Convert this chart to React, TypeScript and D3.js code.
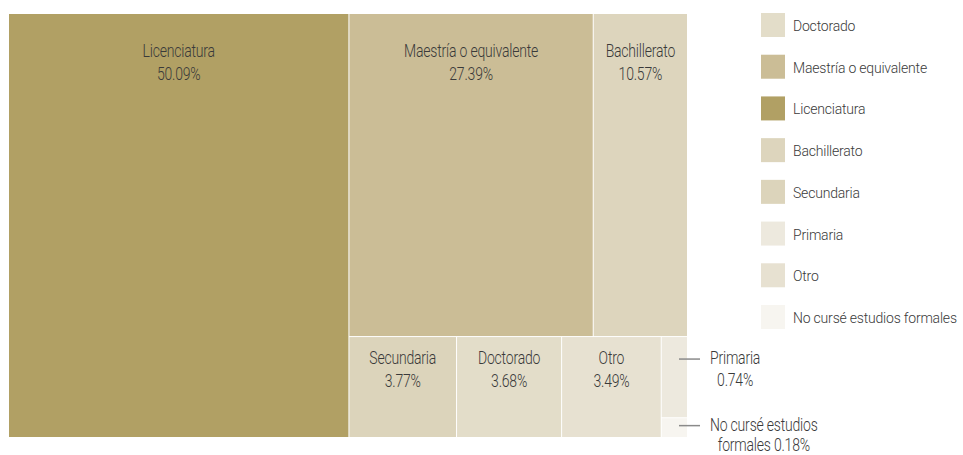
import React, { useEffect, useRef } from "react";
import * as d3 from "d3";

const categories = [
  "Licenciatura",
  "Maestría o equivalente",
  "Bachillerato",
  "Secundaria",
  "Doctorado",
  "Otro",
  "Primaria",
  "No cursé estudios formales",
];
const percentages = [50.09, 27.39, 10.57, 3.77, 3.68, 3.49, 0.74, 0.18];
const colors = ["#b1a064", "#cbbd96", "#ddd5bd", "#dcd4bb", "#e3ddc9", "#e7e1d1", "#ede9de", "#f7f5f0"];
const legendOrder = [
  "Doctorado",
  "Maestría o equivalente",
  "Licenciatura",
  "Bachillerato",
  "Secundaria",
  "Primaria",
  "Otro",
  "No cursé estudios formales",
];
const outsideCategories = ["Primaria", "No cursé estudios formales"];
const outsideNameLines: Record<string, string[]> = {
  Primaria: ["Primaria", ""],
  "No cursé estudios formales": ["No cursé estudios", "formales "],
};

const FONT = "Roboto, 'Open Sans', sans-serif";
const TEXT = "#3a3a3a";

export default function App() {
  const ref = useRef<SVGSVGElement | null>(null);

  useEffect(() => {
    const svg = d3.select(ref.current);
    svg.selectAll("*").remove();

    const x0 = 9, y0 = 14, W = 678, H = 423;
    const vscale = 1.27;

    const data = categories.map((c, i) => ({ name: c, value: percentages[i], color: colors[i] }));
    const root = d3
      .hierarchy<any>({ children: data })
      .sum((d: any) => d.value || 0)
      .sort((a, b) => (b.value || 0) - (a.value || 0));
    d3.treemap<any>().tile(d3.treemapSquarify).size([W, H]).paddingInner(1)(root);

    const g = svg.append("g").attr("transform", `translate(${x0},${y0})`);
    const leaves = root.leaves() as any[];
    const fmt = (v: number) => v.toFixed(2) + "%";
    const offset = d3.scaleLinear().domain([100, 300]).range([27, 43]).clamp(true);

    g.selectAll("rect.cell")
      .data(leaves)
      .join("rect")
      .attr("class", "cell")
      .attr("x", (d) => d.x0)
      .attr("y", (d) => d.y0)
      .attr("width", (d) => d.x1 - d.x0)
      .attr("height", (d) => d.y1 - d.y0)
      .attr("fill", (d) => d.data.color);

    const inside = leaves.filter((d) => !outsideCategories.includes(d.data.name));
    inside.forEach((d) => {
      const cx = (d.x0 + d.x1) / 2;
      const b1 = d.y0 + offset(d.y1 - d.y0);
      [d.data.name, fmt(d.data.value)].forEach((t, k) => {
        g.append("text")
          .attr("transform", `translate(${cx},${b1 + k * 22.5}) scale(1,${vscale})`)
          .attr("text-anchor", "middle")
          .attr("font-family", FONT)
          .attr("font-weight", 300)
          .attr("font-size", 14)
          .attr("letter-spacing", -0.2)
          .attr("fill", TEXT)
          .text(t);
      });
    });

    const outside = leaves.filter((d) => outsideCategories.includes(d.data.name));
    outside.forEach((d) => {
      const lines = outsideNameLines[d.data.name];
      const texts = lines[1] === "" ? [lines[0], fmt(d.data.value)] : [lines[0], lines[1] + fmt(d.data.value)];
      const h = d.y1 - d.y0;
      const small = h <= 40;
      const b1 = small ? (d.y0 + d.y1) / 2 + 3 : d.y0 + offset(h);
      const gap = small ? 20 : 21.5;
      const ly = b1 - 5;
      g.append("line")
        .attr("x1", d.x1 - 8)
        .attr("x2", d.x1 + 13)
        .attr("y1", ly)
        .attr("y2", ly)
        .attr("stroke", "#8a8a8a")
        .attr("stroke-width", 1.5);
      const tx = d.x1 + 23;
      const first = g
        .append("text")
        .attr("transform", `translate(${tx},${b1}) scale(1,${vscale})`)
        .attr("font-family", FONT)
        .attr("font-weight", 300)
        .attr("font-size", 14)
        .attr("letter-spacing", -0.2)
        .attr("fill", TEXT)
        .text(texts[0]);
      const w = (first.node() as SVGTextElement).getComputedTextLength();
      g.append("text")
        .attr("transform", `translate(${tx + w / 2},${b1 + gap}) scale(1,${vscale})`)
        .attr("text-anchor", "middle")
        .attr("font-family", FONT)
        .attr("font-weight", 300)
        .attr("font-size", 14)
        .attr("letter-spacing", -0.2)
        .attr("fill", TEXT)
        .text(texts[1]);
    });

    const legendY = d3.scalePoint<string>().domain(legendOrder).range([25, 317]);
    const lg = svg.append("g");
    legendOrder.forEach((name) => {
      const i = categories.indexOf(name);
      const cy = legendY(name) as number;
      lg.append("rect")
        .attr("x", 761)
        .attr("y", cy - 12)
        .attr("width", 24)
        .attr("height", 24)
        .attr("fill", colors[i]);
      lg.append("text")
        .attr("x", 793)
        .attr("y", cy + 6)
        .attr("font-family", FONT)
        .attr("font-weight", 300)
        .attr("font-size", 14)
        .attr("letter-spacing", -0.2)
        .attr("fill", TEXT)
        .text(name);
    });
  }, []);

  return (
    <svg
      ref={ref}
      width={963}
      height={455}
      style={{ position: "absolute", left: 0, top: 0, display: "block", background: "#fff" }}
    />
  );
}
